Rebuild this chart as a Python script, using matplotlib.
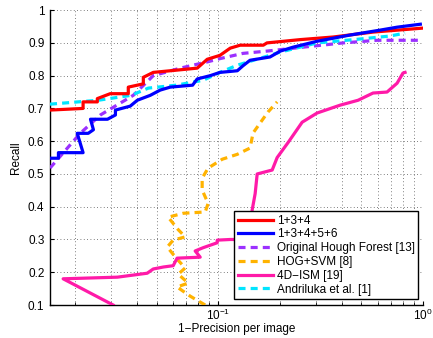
import matplotlib
matplotlib.use("Agg")
import matplotlib.pyplot as plt
from matplotlib.ticker import LogLocator, FixedLocator, NullFormatter

# Data (x = 1-Precision per image, y = Recall)
red_x = [0.0151, 0.0219, 0.0219, 0.0257, 0.0257, 0.0297, 0.0364, 0.0364, 0.0431, 0.0431, 0.0482,
         0.063, 0.079, 0.0884, 0.102, 0.1145, 0.128, 0.166, 0.173, 0.251, 0.364, 0.57, 0.99]
red_y = [0.695, 0.70, 0.72, 0.72, 0.73, 0.745, 0.745, 0.765, 0.775, 0.795, 0.81,
         0.817, 0.823, 0.85, 0.862, 0.884, 0.893, 0.893, 0.90, 0.91, 0.918, 0.933, 0.945]

blue_x = [0.0151, 0.0166, 0.0166, 0.0219, 0.0205, 0.0232, 0.0246, 0.0238, 0.0288, 0.0315, 0.0315,
          0.0372, 0.0403, 0.0466, 0.0521, 0.0583, 0.075, 0.079, 0.0914, 0.102, 0.124, 0.132,
          0.143, 0.179, 0.201, 0.232, 0.304, 0.44, 0.617, 0.747, 0.97]
blue_y = [0.548, 0.548, 0.565, 0.565, 0.624, 0.624, 0.635, 0.667, 0.667, 0.68, 0.695,
          0.707, 0.725, 0.74, 0.756, 0.765, 0.771, 0.79, 0.80, 0.81, 0.815, 0.83,
          0.847, 0.857, 0.875, 0.887, 0.905, 0.924, 0.939, 0.948, 0.957]

purple_x = [0.0151, 0.0212, 0.0266, 0.0385, 0.0482, 0.0653, 0.0884, 0.102, 0.132, 0.173,
            0.26, 0.407, 0.597, 0.99]
purple_y = [0.518, 0.624, 0.68, 0.74, 0.80, 0.823, 0.842, 0.852, 0.868, 0.875,
            0.887, 0.90, 0.908, 0.908]

orange_x = [0.0864, 0.073, 0.063, 0.0714, 0.0638, 0.069, 0.063, 0.0564, 0.0603, 0.069, 0.0638,
            0.057, 0.0675, 0.0864, 0.0893, 0.0835, 0.0835, 0.0893, 0.1047, 0.124, 0.143,
            0.148, 0.16, 0.175, 0.194]
orange_y = [0.10, 0.127, 0.155, 0.167, 0.194, 0.213, 0.24, 0.277, 0.298, 0.308, 0.33,
            0.368, 0.38, 0.384, 0.41, 0.451, 0.487, 0.518, 0.545, 0.56, 0.579,
            0.625, 0.655, 0.689, 0.72]

magenta_x = [0.0307, 0.0175, 0.0322, 0.045, 0.0482, 0.054, 0.0603, 0.063, 0.0817, 0.0772,
             0.0845, 0.0989, 0.0989, 0.1145, 0.143, 0.1465, 0.1515, 0.155, 0.1835, 0.194,
             0.22, 0.257, 0.304, 0.394, 0.482, 0.57, 0.667, 0.747, 0.798, 0.817]
magenta_y = [0.10, 0.18, 0.185, 0.197, 0.21, 0.216, 0.22, 0.243, 0.246, 0.265,
             0.275, 0.29, 0.298, 0.30, 0.30, 0.39, 0.44, 0.50, 0.512, 0.55,
             0.597, 0.658, 0.686, 0.71, 0.725, 0.747, 0.75, 0.777, 0.808, 0.81]

cyan_x = [0.0151, 0.026, 0.0376, 0.0456, 0.0624, 0.0845, 0.102, 0.124, 0.16, 0.201,
          0.251, 0.304, 0.477, 0.69, 0.817]
cyan_y = [0.713, 0.725, 0.74, 0.762, 0.771, 0.786, 0.81, 0.832, 0.853, 0.872,
          0.887, 0.90, 0.911, 0.921, 0.93]

labels = ["1+3+4", "1+3+4+5+6", "Original Hough Forest [13]", "HOG+SVM [8]",
          "4D\u2212ISM [19]", "Andriluka et al. [1]"]
yticks = [0.1, 0.2, 0.3, 0.4, 0.5, 0.6, 0.7, 0.8, 0.9, 1.0]
ytick_labels = ["0.1", "0.2", "0.3", "0.4", "0.5", "0.6", "0.7", "0.8", "0.9", "1"]

plt.rcParams['font.family'] = ['Liberation Sans', 'DejaVu Sans']
plt.rcParams['mathtext.fontset'] = 'custom'
plt.rcParams['mathtext.rm'] = 'Liberation Sans'
fig = plt.figure(figsize=(4.33, 3.38), dpi=100)
ax = fig.add_axes([0.1155, 0.0976, 0.8615, 0.8724])

lw = 2.3
dash = (0, (2.2, 1.6))
ax.plot(red_x, red_y, color='#ff0000', lw=lw, label=labels[0], zorder=5)
ax.plot(blue_x, blue_y, color='#0000ff', lw=lw, label=labels[1], zorder=6)
ax.plot(purple_x, purple_y, color='#9b30ff', lw=lw, ls=dash, label=labels[2], zorder=4)
ax.plot(orange_x, orange_y, color='#ffb300', lw=lw, ls=dash, label=labels[3], zorder=3)
ax.plot(magenta_x, magenta_y, color='#ff1aa8', lw=lw, label=labels[4], zorder=3)
ax.plot(cyan_x, cyan_y, color='#00e5ff', lw=lw, ls=dash, label=labels[5], zorder=4)

ax.set_xscale('log')
ax.set_xlim(0.0151, 1.0)
ax.set_ylim(0.1, 1.0)
ax.yaxis.set_major_locator(FixedLocator(yticks))
ax.set_yticklabels(ytick_labels)
ax.xaxis.set_major_locator(LogLocator(base=10))
ax.xaxis.set_minor_locator(LogLocator(base=10, subs=range(2, 10)))
ax.xaxis.set_minor_formatter(NullFormatter())

ax.grid(True, which='major', color='#555555', ls=(0, (1, 3)), lw=0.6)
ax.grid(True, which='minor', axis='x', color='#555555', ls=(0, (1, 3)), lw=0.6)

for s in ['top', 'right']:
    ax.spines[s].set_visible(False)
ax.spines['left'].set_linewidth(1.0)
ax.spines['bottom'].set_linewidth(1.0)
ax.tick_params(which='both', direction='in', labelsize=8.5, length=3)
ax.tick_params(which='minor', length=2)
ax.tick_params(axis='x', pad=2)
ax.tick_params(axis='y', pad=4)

ax.set_xlabel("1\u2212Precision per image", fontsize=8.5, labelpad=0)
ax.set_ylabel("Recall", fontsize=8.5, labelpad=4)

leg = ax.legend(loc='lower right', fontsize=8.5, handlelength=3.0, handletextpad=0.3,
                labelspacing=0.15, borderpad=0.3, borderaxespad=0.0, frameon=True,
                fancybox=False, edgecolor='black', framealpha=1.0,
                bbox_to_anchor=(0.987, 0.02))
leg.get_frame().set_linewidth(1.0)

fig.savefig("out.png", dpi=100)
